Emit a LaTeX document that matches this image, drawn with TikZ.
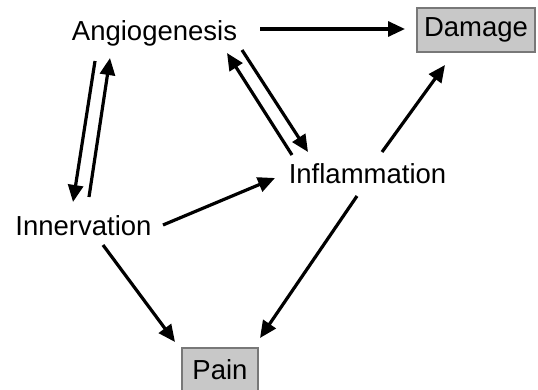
\documentclass[tikz,border=0pt]{standalone}
\usepackage{fontspec}
\setmainfont{Liberation Sans}
\usetikzlibrary{arrows.meta,calc}
\definecolor{boxfill}{RGB}{200,200,200}
\definecolor{boxline}{RGB}{120,120,120}
\begin{document}
\begin{tikzpicture}[x=1pt,y=-1pt,
  lbl/.style={inner sep=0pt,anchor=base,font=\fontsize{27.5}{33}\selectfont},
  outbox/.style={draw=boxline,line width=1.2pt,fill=boxfill,inner sep=0pt,
    font=\fontsize{27.5}{33}\selectfont},
  arr/.style={line width=3.2pt,-{Triangle[length=17pt,width=15pt]}}]
\useasboundingbox (0,0) rectangle (538,389);
\node[lbl] (ang) at (154.5,40) {Angiogenesis};
\node[lbl] (inf) at (367.5,183) {Inflammation};
\node[lbl] (inn) at (83.5,235) {Innervation};
\node[outbox,minimum width=118pt,minimum height=44pt] (dmg) at (476,30) {Damage};
\node[outbox,minimum width=76pt,minimum height=44pt] (pain) at (220,370) {Pain};
% connectors
\draw[arr] ($(ang.base)+(105.5,-11)$) -- ($(dmg)+(-71,-1)$);
\draw[arr] ($(ang.base)+(-59.5,21)$) -- ($(inn.base)+(-10.5,-33)$);
\draw[arr] ($(inn.base)+(5.5,-38)$) -- ($(ang.base)+(-44.5,18)$);
\draw[arr] ($(inf.base)+(-75.5,-28)$) -- ($(ang.base)+(72.5,13)$);
\draw[arr] ($(ang.base)+(87.5,10)$) -- ($(inf.base)+(-59.5,-31)$);
\draw[arr] ($(inn.base)+(79.5,-10)$) -- ($(inf.base)+(-92.5,-5)$);
\draw[arr] ($(inn.base)+(19.5,10)$) -- ($(pain)+(-45,-28)$);
\draw[arr] ($(inf.base)+(-10.5,13)$) -- ($(pain)+(40,-32)$);
\draw[arr] ($(inf.base)+(14.5,-31)$) -- ($(dmg)+(-31,35)$);
\end{tikzpicture}
\end{document}
